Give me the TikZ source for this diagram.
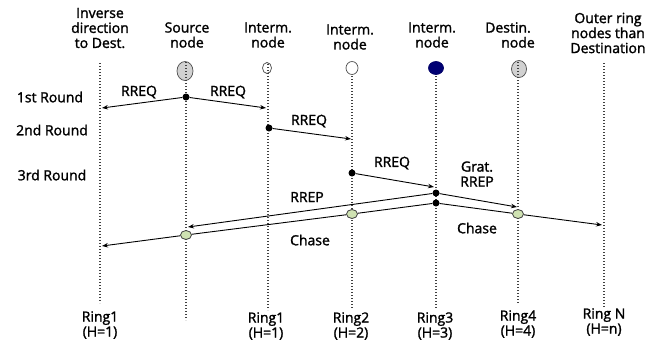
\documentclass[tikz,border=0pt]{standalone}
\usepackage{fontspec}
\setmainfont{Open Sans}
\newfontfamily\lblfont{Open Sans}[BoldFont={Open Sans},BoldFeatures={FakeBold=1.6}]
\usetikzlibrary{arrows.meta,shapes.geometric}
\begin{document}
\begin{tikzpicture}[x=1pt,y=-1pt]
\tikzset{
  vline/.style={line width=1.4pt, draw=black!75, dash pattern=on 1.2pt off 1.8pt},
  lbl/.style={inner sep=0pt, align=center, font=\lblfont\bfseries\fontsize{14}{15}\selectfont},
  dot/.style={circle, fill=black, inner sep=0pt, minimum size=7pt},
  gdot/.style={ellipse, draw=black!75, fill=green!25!olive!30, minimum width=11pt, minimum height=9pt, inner sep=0pt, line width=0.8pt},
  ring/.style={ellipse, draw=black!70, line width=0.7pt, inner sep=0pt},
  arr/.style={line width=0.9pt, -{Stealth[length=6pt,width=4.5pt]}},
  seg/.style={line width=0.9pt},
}
\useasboundingbox (0,0) rectangle (652,343);
% node circles (filled first)
\node[ring, fill=black!18, minimum width=16pt, minimum height=19pt] (srcc) at (185,71) {};
\node[ring, fill=white, minimum width=9pt, minimum height=11pt] (i1c) at (267,68) {};
\node[ring, fill=white, minimum width=12pt, minimum height=13pt] (i2c) at (352,68) {};
\node[ring, fill=blue!45!black, draw=blue!40!black, minimum width=15pt, minimum height=13pt] (i3c) at (436,68) {};
\node[ring, fill=black!18, minimum width=15pt, minimum height=17pt] (dc) at (519,69) {};
% vertical dotted lines
\coordinate (invt) at (100,63);  \coordinate (invb) at (100,303);
\coordinate (srct) at (186,62);  \coordinate (srcb) at (186,320);
\coordinate (i1t) at (268,64);   \coordinate (i1b) at (268,310);
\coordinate (i2t) at (352,76);   \coordinate (i2b) at (352,308);
\coordinate (i3t) at (436,76);   \coordinate (i3b) at (436,308);
\coordinate (dt) at (518,62);    \coordinate (db) at (518,303);
\coordinate (ot) at (604,63);    \coordinate (ob) at (604,307);
\draw[vline] (invt) -- (invb);
\draw[vline] (srct) -- (srcb);
\draw[vline] (i1t) -- (i1b);
\draw[vline] (i2t) -- (i2b);
\draw[vline] (i3t) -- (i3b);
\draw[vline] (dt) -- (db);
\draw[vline] (ot) -- (ob);
% header labels
\node[lbl] (hinv) at (100,28) {Inverse\\direction\\to Dest.};
\node[lbl] (hsrc) at (187,35) {Source\\node};
\node[lbl] (hi1) at (268,35) {Interm.\\node};
\node[lbl] (hi2) at (350,37) {Interm.\\node};
\node[lbl] (hi3) at (432,35) {Interm.\\node};
\node[lbl] (hd) at (508,35) {Destin.\\\hspace*{20pt}node};
\node[lbl] (ho) at (608,33) {Outer ring\\nodes than\\Destination};
% round labels
\node[lbl] (r1) at (50,97) {1st Round};
\node[lbl] (r2) at (52,130) {2nd Round};
\node[lbl] (r3) at (52,175) {3rd Round};
% bottom labels
\node[lbl] (b0) at (100,325) {Ring1\\(H=1)};
\node[lbl] (b1) at (266,326) {Ring1\\(H=1)};
\node[lbl] (b2) at (351,326) {Ring2\\(H=2)};
\node[lbl] (b3) at (435,326) {Ring3\\(H=3)};
\node[lbl] (b4) at (518,324) {Ring4\\(H=4)};
\node[lbl] (bn) at (604,322) {Ring N\\(H=n)};
% 1st round
\node[dot] (d1) at (186,97) {};
\coordinate (a1l) at (102,108);
\coordinate (a1r) at (266,108);
\draw[arr] (d1) -- (a1l);
\draw[arr] (d1) -- (a1r);
\node[lbl] (q1) at (139,92) {RREQ};
\node[lbl] (q2) at (228,92) {RREQ};
% 2nd round
\node[dot] (d2) at (269,128) {};
\coordinate (a2) at (351,139);
\draw[arr] (d2) -- (a2);
\node[lbl] (q3) at (309,121) {RREQ};
% 3rd round
\node[dot] (d3) at (352,173) {};
\coordinate (a3) at (434,187);
\draw[arr] (d3) -- (a3);
\node[lbl] (q4) at (392,163) {RREQ};
% reply
\node[dot] (u) at (436,193) {};
\node[dot] (l) at (436,203) {};
\coordinate (gr) at (517,207);
\coordinate (rr) at (188,227);
\draw[arr] (u) -- (gr);
\draw[arr] (u) -- (rr);
\node[lbl] (gl) at (477,174) {Grat.\\RREP};
\node[lbl] (rl) at (307,197) {RREP};
% chase
\node[gdot] (g2) at (352,214) {};
\node[gdot] (g1) at (186,235) {};
\node[gdot] (g4) at (518,214) {};
\coordinate (chl) at (102,246);
\coordinate (chr) at (602,225);
\draw[seg] (l) -- (g2);
\draw[seg] (g2) -- (g1);
\draw[arr] (g1) -- (chl);
\draw[seg] (l) -- (g4);
\draw[arr] (g4) -- (chr);
\node[lbl] (c1) at (310,240) {Chase};
\node[lbl] (c2) at (477,228) {Chase};
\end{tikzpicture}
\end{document}
